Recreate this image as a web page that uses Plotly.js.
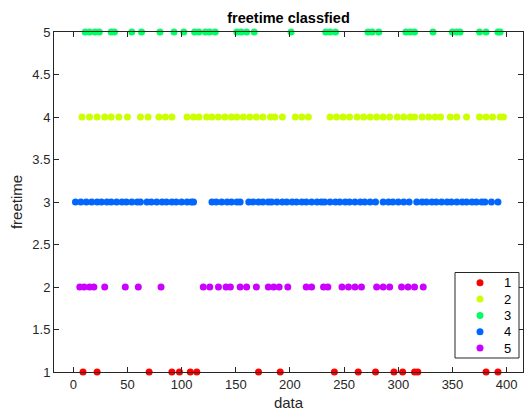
<!DOCTYPE html>
<html>
<head>
<meta charset="utf-8">
<script src="https://cdn.plot.ly/plotly-3.0.1.min.js"></script>
<style>html,body{margin:0;padding:0;background:#fff;}#chart{width:524px;height:412px;}</style>
</head>
<body>
<div id="chart"></div>
<script>
// Data indices (x) for each class; y value = class level
const class1X = [9, 22, 70, 91, 98, 108, 114, 171, 191, 241, 263, 279, 296, 304, 315, 318, 381, 392];
const class2X = [8, 15, 22, 29, 35, 42, 50, 62, 69, 79, 85, 91, 105, 111, 116, 123, 128, 134, 140, 146, 151, 157, 163, 169, 175, 182, 186, 193, 205, 211, 217, 237, 243, 249, 255, 262, 268, 274, 280, 286, 292, 299, 305, 311, 315, 322, 328, 334, 339, 348, 354, 363, 375, 381, 387, 394, 397];
const class3X = [11, 15, 20, 24, 35, 38, 54, 63, 80, 93, 102, 112, 116, 122, 126, 131, 151, 155, 160, 167, 201, 233, 237, 242, 272, 276, 282, 307, 311, 315, 332, 350, 354, 357, 375, 381, 392, 394];
const class4X = [2, 7, 12, 17, 22, 26, 31, 35, 40, 45, 49, 54, 59, 62, 68, 72, 77, 82, 86, 91, 95, 100, 105, 109, 111, 128, 132, 137, 142, 146, 151, 154, 162, 166, 171, 175, 180, 183, 188, 193, 197, 202, 206, 211, 215, 220, 225, 229, 232, 237, 242, 246, 251, 255, 260, 265, 269, 274, 279, 286, 291, 295, 300, 305, 310, 317, 322, 326, 331, 335, 340, 345, 349, 354, 359, 363, 368, 372, 377, 380, 386, 392];
const class5X = [6, 10, 15, 19, 29, 48, 60, 81, 120, 126, 134, 141, 145, 154, 160, 169, 180, 185, 190, 198, 215, 220, 231, 235, 248, 254, 260, 266, 280, 286, 292, 303, 309, 315, 323];
const classNames = ["1", "2", "3", "4", "5"];
const classLevels = [1, 4, 5, 3, 2];
const classColors = ["#FF0000", "#CCFF00", "#00FF66", "#0066FF", "#CC00FF"];
const xTickVals = [0, 50, 100, 150, 200, 250, 300, 350, 400];
const yTickVals = [1, 1.5, 2, 2.5, 3, 3.5, 4, 4.5, 5];

const allX = [class1X, class2X, class3X, class4X, class5X];
const traces = allX.map((xs, i) => ({
  type: 'scatter', mode: 'markers',
  x: xs, y: xs.map(() => classLevels[i]),
  name: classNames[i],
  cliponaxis: false,
  marker: {color: classColors[i], size: 7, line: {width: 0}}
}));

// plot area geometry (px) for legend box placement
const PL = 54, PW = 469, PT = 32, PH = 340;
const px2x = p => (p - PL) / PW;
const py2y = p => (PT + PH - p) / PH;

const ax = '#262626';
const font = 'Arial, "Liberation Sans", Helvetica, sans-serif';

const shapes = [{type: 'rect', xref: 'paper', yref: 'paper', x0: px2x(455), x1: px2x(519), y0: py2y(358), y1: py2y(272.5),
                 line: {color: ax, width: 1}, fillcolor: '#fff', layer: 'above'}];
const annotations = [];
classNames.forEach((nm, i) => {
  const cy = py2y(282.7 + i * 16.35);
  shapes.push({type: 'circle', xref: 'paper', yref: 'paper', xsizemode: 'pixel', ysizemode: 'pixel',
               xanchor: px2x(480), yanchor: cy, x0: -3.5, x1: 3.5, y0: -3.5, y1: 3.5,
               fillcolor: classColors[i], line: {width: 0}, layer: 'above'});
  annotations.push({xref: 'paper', yref: 'paper', x: px2x(512.5), y: cy, xanchor: 'right', yanchor: 'middle',
                    text: nm, showarrow: false, font: {size: 13, color: '#000', family: font}});
});

const layout = {
  width: 524, height: 412,
  margin: {l: PL, r: 524 - PL - PW, t: PT, b: 412 - PT - PH, pad: 0},
  paper_bgcolor: '#fff', plot_bgcolor: '#fff',
  font: {family: font, color: ax, size: 13},
  title: {text: '<b>freetime classfied</b>', font: {family: font, size: 14.5, color: '#000'},
          x: 0.5, xref: 'paper', xanchor: 'center', y: 0.956, yref: 'container', yanchor: 'middle'},
  showlegend: false,
  shapes: shapes,
  annotations: annotations,
  xaxis: {range: [-17.8, 415.1], tickvals: xTickVals, ticks: 'inside', ticklen: 5, tickcolor: ax,
          showline: true, linecolor: ax, linewidth: 1, mirror: 'ticks', showgrid: false, zeroline: false,
          tickfont: {size: 13, color: ax},
          title: {text: 'data', font: {size: 15, color: ax}, standoff: 6}},
  yaxis: {range: [1, 5], tickvals: yTickVals, ticktext: yTickVals.map(String), ticks: 'inside', ticklen: 5, tickcolor: ax,
          showline: true, linecolor: ax, linewidth: 1, mirror: 'ticks', showgrid: false, zeroline: false,
          tickfont: {size: 13, color: ax},
          title: {text: 'freetime', font: {size: 15, color: ax}, standoff: 6}}
};
Plotly.newPlot('chart', traces, layout, {displayModeBar: false, staticPlot: true});
</script>
</body>
</html>
